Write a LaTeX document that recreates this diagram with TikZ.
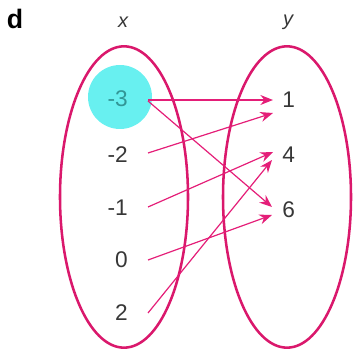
\documentclass[tikz,border=0pt]{standalone}
\usepackage{fontspec}
\setmainfont{Liberation Sans}
\usetikzlibrary{arrows.meta}

\definecolor{setpink}{RGB}{218,24,108}
\definecolor{arrowpink}{RGB}{228,30,120}
\definecolor{hilite}{RGB}{104,240,240}
\definecolor{hilitetext}{RGB}{50,150,150}
\definecolor{numgrey}{RGB}{55,55,55}

\begin{document}
\begin{tikzpicture}[x=0.75pt,y=-0.75pt]
    \useasboundingbox (0,0) rectangle (353,352);

    \fill[hilite] (120,97) circle [radius=24pt];

    \draw[setpink,line width=1.9pt] (124,197) ellipse [x radius=48pt,y radius=113pt];
    \draw[setpink,line width=1.9pt] (287,197) ellipse [x radius=48pt,y radius=113pt];

    \node[font=\fontsize{20}{22}\selectfont\bfseries] (d) at (15,19) {d};
    \node[font=\fontsize{15}{18}\selectfont\itshape,text=numgrey] (xhead) at (123,22) {x};
    \node[font=\fontsize{15}{18}\selectfont\itshape,text=numgrey] (yhead) at (288,22) {y};

    \tikzset{num/.style={font=\fontsize{17}{20}\selectfont,text=numgrey,inner sep=0pt}}
    \node[num,anchor=east,text=hilitetext] (xm3) at (128,99) {-3};
    \node[num,anchor=east] (xm2) at (128,155) {-2};
    \node[num,anchor=east] (xm1) at (128,208) {-1};
    \node[num,anchor=east] (x0) at (128,260) {0};
    \node[num,anchor=east] (x2) at (128,313) {2};

    \node[num,anchor=west] (y1) at (282,100) {1};
    \node[num,anchor=west] (y4) at (282,155) {4};
    \node[num,anchor=west] (y6) at (282,210) {6};

    \path[-{Stealth[length=9.5pt,width=7.5pt]},arrowpink,line width=0.9pt]
    ([shift={(20,1)}]xm3.east) edge ([shift={(-9,0)}]y1.west)
    ([shift={(20,2)}]xm3.east) edge ([shift={(-10,-3)}]y6.west)
    ([shift={(20,-2)}]xm2.east) edge ([shift={(-9,13)}]y1.west)
    ([shift={(20,-1)}]xm1.east) edge ([shift={(-9,-3)}]y4.west)
    ([shift={(20,0)}]x0.east) edge ([shift={(-10,5)}]y6.west)
    ([shift={(20,0)}]x2.east) edge ([shift={(-10,5)}]y4.west);
\end{tikzpicture}
\end{document}
